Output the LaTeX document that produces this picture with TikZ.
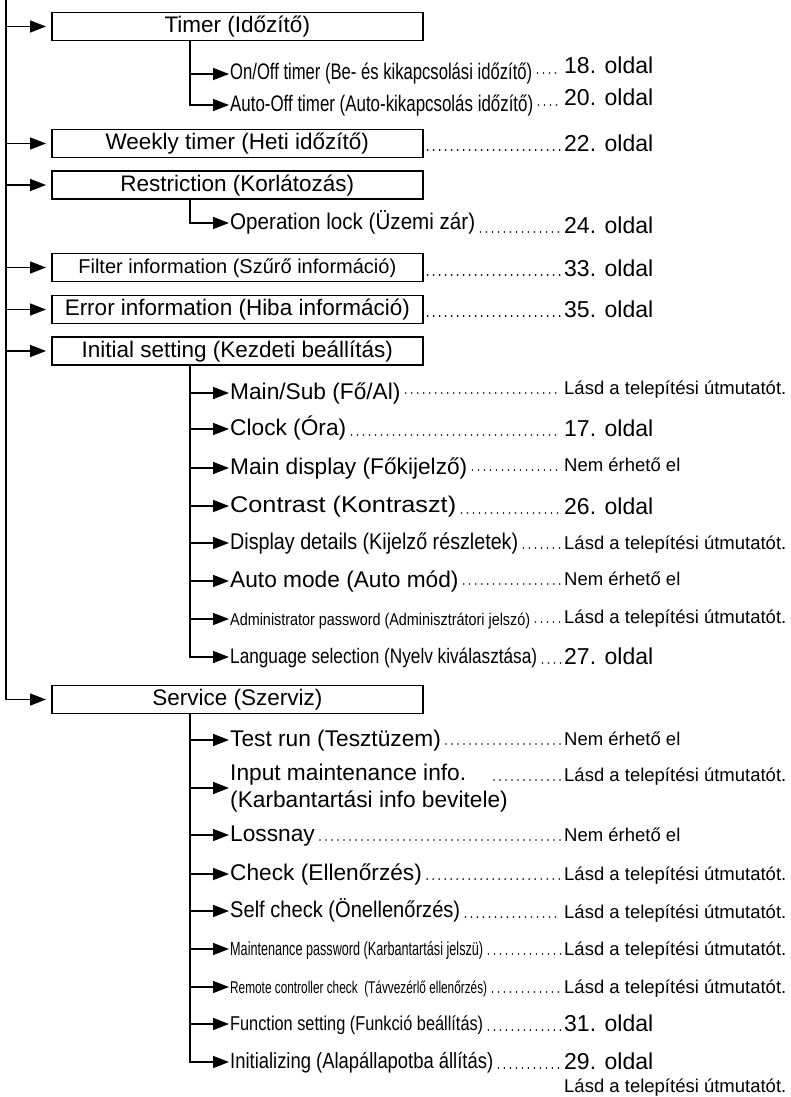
\documentclass[tikz,border=0pt]{standalone}
\usepackage{fontspec}
\setmainfont{Liberation Sans}
\usepackage{graphicx}
\usetikzlibrary{arrows.meta}

\newcommand{\fsize}[1]{\fontsize{#1pt}{27pt}\selectfont}
\newcommand{\squeeze}[2]{\resizebox{#1pt}{\height}{#2}}

\tikzset{
    menubox/.style={draw, line width=1.6pt, minimum width=371pt, minimum height=28pt,
                    inner sep=0pt, text height=16pt, text depth=4pt, anchor=west,
                    font=\fsize{22.5}},
    item/.style={anchor=west, inner xsep=1pt, inner ysep=0pt,
                 text height=16pt, text depth=4pt, font=\fsize{22.7}},
    narrow/.style={item, font=\fsize{#1}},
    pgno/.style={anchor=base west, inner sep=0pt, font=\fsize{23}},
    note/.style={anchor=base west, inner sep=0pt, font=\fsize{18.5}},
    link/.style={line width=1.6pt, -{Triangle[length=16pt,width=12pt]}},
    leader/.style={line width=1.8pt, line cap=round, dash pattern=on 0pt off 6pt,
                   shorten <=4pt, shorten >=3pt, transform canvas={yshift=1pt}},
}

\begin{document}
\begin{tikzpicture}[x=1pt, y=-1pt]
    \useasboundingbox (0,0) rectangle (790,1097);
    \coordinate (top)   at (6,0);
    \coordinate (split) at (190,0);

    % menu boxes
    \node[menubox]                      (timer)    at (51,26.5)  {Timer (Időzítő)};
    \node[menubox]                      (weekly)   at (51,143.5) {Weekly timer (Heti időzítő)};
    \node[menubox]                      (restrict) at (51,185)   {Restriction (Korlátozás)};
    \node[menubox, font=\fsize{20}]     (filter)   at (51,267.5) {Filter information (Szűrő információ)};
    \node[menubox]                      (error)    at (51,309.5) {Error information (Hiba információ)};
    \node[menubox]                      (initial)  at (51,351)   {Initial setting (Kezdeti beállítás)};
    \node[menubox]                      (service)  at (51,699.5) {Service (Szerviz)};

    % sub items
    \node[narrow=22.5] (onoff)     at (229,74)  {\squeeze{302}{On/Off timer (Be- és kikapcsolási időzítő)}};
    \node[narrow=22.5] (autooff)   at (229,105) {\squeeze{303}{Auto-Off timer (Auto-kikapcsolás időzítő)}};
    \node[item]        (oplock)    at (229,223) {\squeeze{245}{Operation lock (Üzemi zár)}};
    \node[item]        (mainsub)   at (229,393) {Main/Sub (Fő/Al)};
    \node[item]        (clock)     at (229,429) {Clock (Óra)};
    \node[item]        (maindisp)  at (229,468) {Main display (Főkijelző)};
    \node[item]        (contrast)  at (229,506) {\squeeze{226}{Contrast (Kontraszt)}};
    \node[item]        (dispdet)   at (229,543) {\squeeze{288}{Display details (Kijelző részletek)}};
    \node[item]        (automode)  at (229,581) {Auto mode (Auto mód)};
    \node[narrow=17]   (adminpw)   at (229,619) {\squeeze{300}{Administrator password (Adminisztrátori jelszó)}};
    \node[narrow=21]   (lang)      at (229,657) {\squeeze{307}{Language selection (Nyelv kiválasztása)}};
    \node[item]        (testrun)   at (229,740) {Test run (Tesztüzem)};
    \node[anchor=west, inner xsep=1pt, inner ysep=0pt, align=left, font=\fsize{22.7}]
                       (inputinfo) at (229,788) {Input maintenance info.\\(Karbantartási info bevitele)};
    \node[item]        (lossnay)   at (229,835) {Lossnay};
    \node[item]        (check)     at (229,874) {Check (Ellenőrzés)};
    \node[item]        (selfcheck) at (229,911) {\squeeze{230}{Self check (Önellenőrzés)}};
    \node[narrow=19]   (maintpw)   at (229,949) {\squeeze{253}{Maintenance password (Karbantartási jelszü)}};
    \node[narrow=17]   (remote)    at (229,987) {\squeeze{257}{Remote controller check\ \ (Távvezérlő ellenőrzés)}};
    \node[narrow=20]   (funcset)   at (229,1024) {\squeeze{253}{Function setting (Funkció beállítás)}};
    \node[narrow=22]   (initzing)  at (229,1062) {\squeeze{263}{Initializing (Alapállapotba állítás)}};
    \coordinate (inputend) at (490,781);

    % page references
    \node[pgno] (onoffref)     at (564,74)   {18. oldal};
    \node[pgno] (autooffref)   at (564,106)  {20. oldal};
    \node[pgno] (weeklyref)    at (564,151)  {22. oldal};
    \node[pgno] (oplockref)    at (564,233)  {24. oldal};
    \node[pgno] (filterref)    at (564,276)  {33. oldal};
    \node[pgno] (errorref)     at (564,317)  {35. oldal};
    \node[note] (mainsubref)   at (564,394)  {Lásd a telepítési útmutatót.};
    \node[pgno] (clockref)     at (564,436)  {17. oldal};
    \node[note] (maindispref)  at (564,471)  {Nem érhető el};
    \node[pgno] (contrastref)  at (564,514)  {26. oldal};
    \node[note] (dispdetref)   at (564,549)  {Lásd a telepítési útmutatót.};
    \node[note] (automoderef)  at (564,585)  {Nem érhető el};
    \node[note] (adminpwref)   at (564,623)  {Lásd a telepítési útmutatót.};
    \node[pgno] (langref)      at (564,664)  {27. oldal};
    \node[note] (testrunref)   at (564,745)  {Nem érhető el};
    \node[note] (inputinforef) at (564,781)  {Lásd a telepítési útmutatót.};
    \node[note] (lossnayref)   at (564,841)  {Nem érhető el};
    \node[note] (checkref)     at (564,880)  {Lásd a telepítési útmutatót.};
    \node[note] (selfcheckref) at (564,918)  {Lásd a telepítési útmutatót.};
    \node[note] (maintpwref)   at (564,955)  {Lásd a telepítési útmutatót.};
    \node[note] (remoteref)    at (564,993)  {Lásd a telepítési útmutatót.};
    \node[pgno] (funcsetref)   at (564,1031) {31. oldal};
    \node[pgno] (initzingref)  at (564,1069) {29. oldal};
    \node[note] (initzingnote) at (564,1092) {Lásd a telepítési útmutatót.};

    % main trunk
    \draw[link, shorten >=5pt] (top) |- (service.west);
    \draw[link, shorten >=5pt] (top |- timer.west)    -- (timer.west);
    \draw[link, shorten >=5pt] (top |- weekly.west)   -- (weekly.west);
    \draw[link, shorten >=5pt] (top |- restrict.west) -- (restrict.west);
    \draw[link, shorten >=5pt] (top |- filter.west)   -- (filter.west);
    \draw[link, shorten >=5pt] (top |- error.west)    -- (error.west);
    \draw[link, shorten >=5pt] (top |- initial.west)  -- (initial.west);

    % branches
    \draw[link] (split |- timer.south) |- (autooff.west);
    \draw[link] (split |- onoff.west) -- (onoff.west);
    \draw[link] (split |- restrict.south) |- (oplock.west);
    \draw[link] (split |- initial.south) |- (lang.west);
    \draw[link] (split |- mainsub.west)  -- (mainsub.west);
    \draw[link] (split |- clock.west)    -- (clock.west);
    \draw[link] (split |- maindisp.west) -- (maindisp.west);
    \draw[link] (split |- contrast.west) -- (contrast.west);
    \draw[link] (split |- dispdet.west)  -- (dispdet.west);
    \draw[link] (split |- automode.west) -- (automode.west);
    \draw[link] (split |- adminpw.west)  -- (adminpw.west);
    \draw[link] (split |- service.south) |- (initzing.west);
    \draw[link] (split |- testrun.west)   -- (testrun.west);
    \draw[link] (split |- inputinfo.west) -- (inputinfo.west);
    \draw[link] (split |- lossnay.west)   -- (lossnay.west);
    \draw[link] (split |- check.west)     -- (check.west);
    \draw[link] (split |- selfcheck.west) -- (selfcheck.west);
    \draw[link] (split |- maintpw.west)   -- (maintpw.west);
    \draw[link] (split |- remote.west)    -- (remote.west);
    \draw[link] (split |- funcset.west)   -- (funcset.west);

    % dot leaders
    \draw[leader] (onoff.east |- onoffref.base)         -- (onoffref.base west);
    \draw[leader] (autooff.east |- autooffref.base)     -- (autooffref.base west);
    \draw[leader] (weekly.east |- weeklyref.base)       -- (weeklyref.base west);
    \draw[leader] (oplock.east |- oplockref.base)       -- (oplockref.base west);
    \draw[leader] (filter.east |- filterref.base)       -- (filterref.base west);
    \draw[leader] (error.east |- errorref.base)         -- (errorref.base west);
    \draw[leader] (mainsub.east |- mainsubref.base)     -- (mainsubref.base west);
    \draw[leader] (clock.east |- clockref.base)         -- (clockref.base west);
    \draw[leader] (maindisp.east |- maindispref.base)   -- (maindispref.base west);
    \draw[leader] (contrast.east |- contrastref.base)   -- (contrastref.base west);
    \draw[leader] (dispdet.east |- dispdetref.base)     -- (dispdetref.base west);
    \draw[leader] (automode.east |- automoderef.base)   -- (automoderef.base west);
    \draw[leader] (adminpw.east |- adminpwref.base)     -- (adminpwref.base west);
    \draw[leader] (lang.east |- langref.base)           -- (langref.base west);
    \draw[leader] (testrun.east |- testrunref.base)     -- (testrunref.base west);
    \draw[leader] (inputend)                            -- (inputinforef.base west);
    \draw[leader] (lossnay.east |- lossnayref.base)     -- (lossnayref.base west);
    \draw[leader] (check.east |- checkref.base)         -- (checkref.base west);
    \draw[leader] (selfcheck.east |- selfcheckref.base) -- (selfcheckref.base west);
    \draw[leader] (maintpw.east |- maintpwref.base)     -- (maintpwref.base west);
    \draw[leader] (remote.east |- remoteref.base)       -- (remoteref.base west);
    \draw[leader] (funcset.east |- funcsetref.base)     -- (funcsetref.base west);
    \draw[leader] (initzing.east |- initzingref.base)   -- (initzingref.base west);
\end{tikzpicture}
\end{document}
